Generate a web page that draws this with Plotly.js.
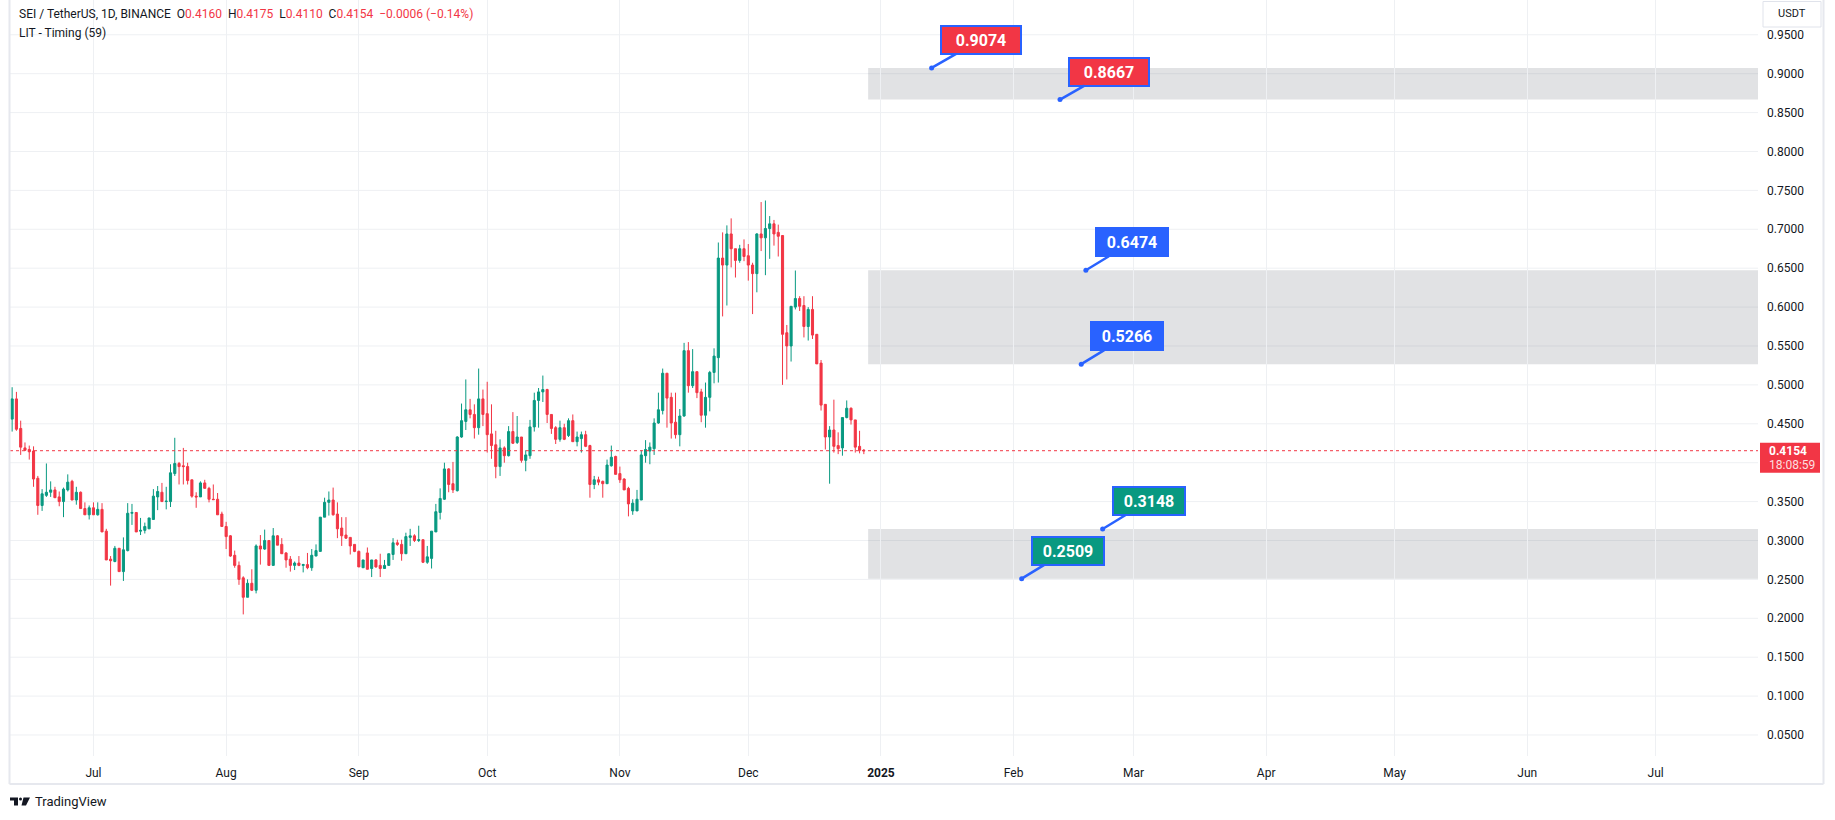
<!DOCTYPE html>
<html>
<head>
<meta charset="utf-8">
<script src="https://cdn.plot.ly/plotly-3.0.1.min.js"></script>
<style>
html,body{margin:0;padding:0;background:#fff;}
#chart{width:1835px;height:820px;}
</style>
</head>
<body>
<div id="chart"></div>
<script>
// ---- Data (SEI / TetherUS, 1D, BINANCE) ----
const firstDay = [2024, 5, 12]; // 2024-06-12, one candle per day
const openP = [
0.456,0.482,0.444,0.419,0.417,0.415,0.380,0.345,0.358,0.362,
0.365,0.356,0.350,0.365,0.376,0.352,0.362,0.341,0.333,0.342,
0.333,0.340,0.312,0.276,0.273,0.290,0.260,0.287,0.335,0.336,
0.312,0.313,0.315,0.327,0.356,0.362,0.350,0.350,0.386,0.399,
0.396,0.395,0.378,0.357,0.356,0.374,0.367,0.353,0.353,0.334,
0.318,0.306,0.281,0.268,0.252,0.227,0.245,0.236,0.293,0.289,
0.300,0.268,0.306,0.295,0.284,0.276,0.268,0.271,0.268,0.269,
0.265,0.280,0.286,0.330,0.349,0.352,0.334,0.316,0.307,0.304,
0.295,0.286,0.265,0.284,0.264,0.275,0.268,0.264,0.268,0.282,
0.297,0.295,0.283,0.304,0.306,0.300,0.301,0.272,0.277,0.311,
0.336,0.353,0.392,0.373,0.364,0.433,0.453,0.468,0.462,0.445,
0.482,0.463,0.437,0.423,0.395,0.419,0.409,0.440,0.426,0.433,
0.403,0.409,0.446,0.480,0.491,0.494,0.462,0.445,0.430,0.445,
0.435,0.454,0.427,0.431,0.436,0.422,0.372,0.378,0.376,0.373,
0.396,0.408,0.386,0.379,0.367,0.338,0.338,0.352,0.409,0.415,
0.418,0.451,0.467,0.515,0.484,0.452,0.436,0.460,0.544,0.499,
0.517,0.491,0.461,0.484,0.516,0.535,0.663,0.654,0.694,0.675,
0.660,0.675,0.666,0.654,0.643,0.694,0.689,0.701,0.707,0.696,
0.692,0.567,0.550,0.600,0.611,0.602,0.575,0.597,0.565,0.528,
0.475,0.433,0.442,0.422,0.419,0.458,0.470,0.455,0.421,0.4160];
const highP = [
0.497,0.491,0.454,0.426,0.422,0.421,0.383,0.366,0.399,0.376,
0.369,0.363,0.368,0.385,0.378,0.369,0.363,0.349,0.345,0.349,
0.349,0.348,0.315,0.280,0.293,0.290,0.304,0.348,0.347,0.336,
0.329,0.323,0.329,0.366,0.370,0.374,0.369,0.398,0.432,0.401,
0.419,0.400,0.378,0.362,0.376,0.378,0.369,0.372,0.361,0.337,
0.324,0.307,0.287,0.273,0.254,0.250,0.263,0.295,0.307,0.314,
0.300,0.316,0.307,0.303,0.285,0.280,0.273,0.280,0.270,0.284,
0.289,0.295,0.330,0.355,0.363,0.368,0.349,0.330,0.330,0.304,
0.295,0.287,0.275,0.291,0.275,0.276,0.283,0.275,0.283,0.303,
0.301,0.301,0.310,0.315,0.308,0.319,0.301,0.293,0.312,0.347,
0.367,0.400,0.393,0.401,0.434,0.476,0.507,0.482,0.475,0.521,
0.494,0.504,0.475,0.441,0.430,0.421,0.447,0.465,0.460,0.433,
0.416,0.455,0.490,0.496,0.512,0.495,0.462,0.447,0.454,0.450,
0.457,0.462,0.440,0.440,0.441,0.423,0.383,0.382,0.377,0.404,
0.422,0.409,0.395,0.380,0.369,0.353,0.365,0.416,0.429,0.426,
0.457,0.490,0.521,0.515,0.490,0.490,0.469,0.554,0.555,0.546,
0.517,0.495,0.503,0.518,0.547,0.683,0.696,0.705,0.714,0.675,
0.680,0.687,0.681,0.657,0.695,0.735,0.737,0.717,0.712,0.706,
0.692,0.577,0.601,0.647,0.614,0.614,0.600,0.614,0.565,0.532,
0.475,0.447,0.481,0.439,0.458,0.480,0.471,0.455,0.441,0.4175];
const lowP = [
0.440,0.441,0.410,0.415,0.404,0.369,0.333,0.338,0.356,0.356,
0.355,0.344,0.330,0.363,0.352,0.346,0.341,0.333,0.327,0.333,
0.332,0.311,0.275,0.242,0.272,0.260,0.248,0.286,0.320,0.311,
0.307,0.309,0.315,0.327,0.339,0.350,0.340,0.343,0.383,0.372,
0.372,0.372,0.355,0.342,0.356,0.367,0.349,0.352,0.333,0.318,
0.289,0.279,0.265,0.243,0.205,0.227,0.235,0.232,0.269,0.288,
0.268,0.268,0.294,0.283,0.265,0.260,0.262,0.267,0.259,0.263,
0.261,0.280,0.286,0.330,0.332,0.332,0.303,0.293,0.302,0.282,
0.285,0.266,0.265,0.263,0.253,0.265,0.253,0.264,0.268,0.275,
0.293,0.274,0.283,0.293,0.298,0.298,0.271,0.270,0.264,0.311,
0.327,0.352,0.362,0.361,0.363,0.432,0.442,0.457,0.431,0.436,
0.447,0.413,0.405,0.380,0.383,0.400,0.408,0.424,0.424,0.400,
0.389,0.405,0.440,0.445,0.478,0.451,0.437,0.424,0.427,0.429,
0.433,0.427,0.421,0.413,0.420,0.355,0.366,0.371,0.355,0.373,
0.395,0.385,0.374,0.365,0.331,0.333,0.338,0.352,0.400,0.398,
0.410,0.450,0.462,0.445,0.431,0.431,0.421,0.459,0.490,0.496,
0.483,0.452,0.445,0.466,0.502,0.503,0.588,0.602,0.651,0.638,
0.657,0.659,0.634,0.591,0.619,0.672,0.641,0.662,0.679,0.665,
0.500,0.507,0.530,0.597,0.595,0.561,0.557,0.559,0.527,0.467,
0.417,0.373,0.413,0.411,0.409,0.457,0.449,0.413,0.412,0.4110];
const closeP = [
0.482,0.443,0.420,0.416,0.414,0.379,0.345,0.360,0.362,0.365,
0.355,0.350,0.366,0.375,0.352,0.362,0.341,0.333,0.342,0.333,
0.340,0.311,0.275,0.274,0.290,0.260,0.288,0.335,0.336,0.311,
0.313,0.318,0.329,0.357,0.363,0.350,0.3505,0.387,0.399,0.395,
0.395,0.377,0.357,0.356,0.374,0.367,0.353,0.3525,0.333,0.318,
0.305,0.280,0.268,0.250,0.227,0.245,0.236,0.293,0.289,0.300,
0.268,0.306,0.294,0.283,0.275,0.268,0.271,0.268,0.269,0.265,
0.281,0.287,0.330,0.349,0.352,0.333,0.315,0.306,0.303,0.293,
0.286,0.266,0.275,0.263,0.275,0.266,0.264,0.268,0.283,0.297,
0.295,0.283,0.305,0.306,0.300,0.301,0.272,0.279,0.312,0.337,
0.354,0.392,0.372,0.365,0.433,0.454,0.468,0.462,0.445,0.482,
0.462,0.436,0.422,0.395,0.419,0.409,0.440,0.425,0.433,0.403,
0.410,0.446,0.480,0.491,0.494,0.462,0.444,0.430,0.445,0.430,
0.454,0.427,0.433,0.436,0.421,0.372,0.378,0.375,0.373,0.397,
0.407,0.385,0.378,0.365,0.347,0.348,0.353,0.410,0.417,0.420,
0.451,0.468,0.515,0.483,0.451,0.436,0.460,0.544,0.499,0.517,
0.490,0.461,0.484,0.516,0.537,0.663,0.654,0.694,0.675,0.660,
0.675,0.665,0.654,0.643,0.694,0.689,0.701,0.707,0.694,0.691,
0.565,0.550,0.601,0.611,0.601,0.575,0.597,0.564,0.527,0.474,
0.433,0.442,0.421,0.418,0.458,0.470,0.455,0.420,0.416,0.4154];

// Price-label levels (LIT - Timing) and zones
const levelPrices = [0.9074, 0.8667, 0.6474, 0.5266, 0.3148, 0.2509];
const levelDates  = ['2025-01-12 20:00','2025-02-11 20:00','2025-02-17 21:00','2025-02-16 19:00','2025-02-21 19:00','2025-02-02 21:00'];
const levelColors = ['#f23645','#f23645','#2962ff','#2962ff','#089981','#089981'];
const zoneStart = '2024-12-29';
const zoneTops    = [0.9074, 0.6474, 0.3148];
const zoneBottoms = [0.8667, 0.5266, 0.2509];

// Price-axis tick labels (0.4000 is hidden behind the last-price tag)
const yTickVals = [0.05,0.10,0.15,0.20,0.25,0.30,0.35,0.45,0.50,0.55,0.60,0.65,0.70,0.75,0.80,0.85,0.90,0.95];
const yGridVals = [0.05,0.10,0.15,0.20,0.25,0.30,0.35,0.40,0.45,0.50,0.55,0.60,0.65,0.70,0.75,0.80,0.85,0.90,0.95];

const monthTicks = ['2024-07-01','2024-08-01','2024-09-01','2024-10-01','2024-11-01','2024-12-01','2025-01-01','2025-02-01','2025-03-01','2025-04-01','2025-05-01','2025-06-01','2025-07-01'];
const monthLabels = ['Jul','Aug','Sep','Oct','Nov','Dec','<b>2025</b>','Feb','Mar','Apr','May','Jun','Jul'];

const headerSymbol = 'SEI / TetherUS, 1D, BINANCE';
const headerOHLC = ['0.4160','0.4175','0.4110','0.4154'];
const headerChange = '\u22120.0006 (\u22120.14%)';
const indicatorName = 'LIT - Timing (59)';
const countdown = '18:08:59';

// ---- Layout geometry ----
const W = 1835, H = 820;
const PL = 10, PR = 1758, PT = 0, PB = 756;
const xRange = ['2024-06-11 12:00', '2025-07-24 22:00'];
const yRange = [0.0230, 0.9947];
const px = x => (x - PL) / (PR - PL);
const py = y => (PB - y) / (PB - PT);
const priceToPix = p => PB - (p - yRange[0]) / (yRange[1] - yRange[0]) * (PB - PT);

const dates = [];
for (let i = 0; i < openP.length; i++) {
  const d = new Date(Date.UTC(firstDay[0], firstDay[1], firstDay[2] + i));
  dates.push(d.toISOString().slice(0, 10));
}

const UP = '#089981', DOWN = '#f23645', TXT = '#131722', GRID = '#eef0f3', FONT = 'Roboto, "Noto Sans", sans-serif';

const traces = [
  {
    type: 'candlestick', x: dates, open: openP, high: highP, low: lowP, close: closeP,
    increasing: {line: {color: UP, width: 1}, fillcolor: UP},
    decreasing: {line: {color: DOWN, width: 1}, fillcolor: DOWN},
    whiskerwidth: 0, hoverinfo: 'skip', showlegend: false
  },
  {
    type: 'scatter', mode: 'markers', x: levelDates, y: levelPrices,
    marker: {color: '#2962ff', size: 5}, hoverinfo: 'skip', showlegend: false, cliponaxis: false
  }
];

const shapes = [];
// horizontal grid lines
for (let i = 0; i < yGridVals.length; i++) {
  shapes.push({type: 'line', xref: 'paper', yref: 'y', x0: 0, x1: 1, y0: yGridVals[i], y1: yGridVals[i],
    line: {color: GRID, width: 1}, layer: 'below'});
}
// zones
for (let i = 0; i < zoneTops.length; i++) {
  shapes.push({type: 'rect', xref: 'x', yref: 'y', x0: zoneStart, x1: xRange[1],
    y0: zoneBottoms[i], y1: zoneTops[i], fillcolor: 'rgba(120,123,134,0.22)', line: {width: 0}, layer: 'below'});
}
const lastClose = closeP[closeP.length - 1];
// last price dotted line
shapes.push({type: 'line', xref: 'paper', yref: 'y', x0: 0, x1: 1, y0: lastClose, y1: lastClose,
  line: {color: DOWN, width: 1, dash: 'dot'}});
// last price axis label box
const lp = priceToPix(lastClose);
shapes.push({type: 'rect', xref: 'paper', yref: 'paper', x0: px(1760), x1: px(1820), y0: py(lp + 22), y1: py(lp - 8),
  fillcolor: DOWN, line: {width: 0}});
// frame
shapes.push({type: 'line', xref: 'paper', yref: 'paper', x0: px(9.5), x1: px(9.5), y0: py(0), y1: py(784), line: {color: '#e6e8ee', width: 2}});
shapes.push({type: 'line', xref: 'paper', yref: 'paper', x0: px(1823.5), x1: px(1823.5), y0: py(0), y1: py(784), line: {color: '#e6e8ee', width: 2}});
shapes.push({type: 'line', xref: 'paper', yref: 'paper', x0: px(9.5), x1: px(1823.5), y0: py(784), y1: py(784), line: {color: '#e6e8ee', width: 2}});
// USDT button
shapes.push({type: 'rect', xref: 'paper', yref: 'paper', x0: px(1763), x1: px(1821), y0: py(1.5), y1: py(27),
  fillcolor: '#ffffff', line: {color: '#e0e3eb', width: 1}});
// TradingView logo glyph
const P = (x, y) => px(x).toFixed(5) + ',' + py(y).toFixed(5);
shapes.push({type: 'path', xref: 'paper', yref: 'paper', fillcolor: TXT, line: {width: 0},
  path: 'M' + P(10, 797.5) + ' L' + P(18, 797.5) + ' L' + P(18, 805.5) + ' L' + P(14, 805.5) + ' L' + P(14, 800.5) + ' L' + P(10, 800.5) + ' Z'});
shapes.push({type: 'circle', xref: 'paper', yref: 'paper', fillcolor: TXT, line: {width: 0},
  x0: px(19), x1: px(22), y0: py(800.5), y1: py(797.5)});
shapes.push({type: 'path', xref: 'paper', yref: 'paper', fillcolor: TXT, line: {width: 0},
  path: 'M' + P(23.5, 797.5) + ' L' + P(30, 797.5) + ' L' + P(26, 805.5) + ' L' + P(21.5, 805.5) + ' Z'});

const annotations = [];
// header
const red = s => '<span style="color:' + DOWN + '">' + s + '</span>';
const sp = '\u00a0\u00a0';
annotations.push({xref: 'paper', yref: 'paper', x: px(17), y: py(14), xanchor: 'left', yanchor: 'middle', showarrow: false,
  text: headerSymbol + sp + 'O' + red(headerOHLC[0]) + sp + 'H' + red(headerOHLC[1]) + sp + 'L' + red(headerOHLC[2]) + sp + 'C' + red(headerOHLC[3]) + sp + red(headerChange),
  font: {family: FONT, size: 12, color: TXT}});
annotations.push({xref: 'paper', yref: 'paper', x: px(17), y: py(33), xanchor: 'left', yanchor: 'middle', showarrow: false,
  text: indicatorName, font: {family: FONT, size: 12, color: TXT}});
// USDT
annotations.push({xref: 'paper', yref: 'paper', x: px(1792), y: py(14), xanchor: 'center', yanchor: 'middle', showarrow: false,
  text: 'USDT', font: {family: FONT, size: 11, color: TXT}});
// last price label texts
annotations.push({xref: 'paper', yref: 'paper', x: px(1767), y: py(lp + 0.5), xanchor: 'left', yanchor: 'middle', showarrow: false,
  text: '<b>' + lastClose.toFixed(4) + '</b>', font: {family: FONT, size: 12, color: '#ffffff'}});
annotations.push({xref: 'paper', yref: 'paper', x: px(1767), y: py(lp + 14.5), xanchor: 'left', yanchor: 'middle', showarrow: false,
  text: countdown, font: {family: FONT, size: 12, color: 'rgba(255,255,255,0.85)'}});
// TradingView text
annotations.push({xref: 'paper', yref: 'paper', x: px(33), y: py(801.5), xanchor: 'left', yanchor: 'middle', showarrow: false,
  text: 'TradingView', font: {family: FONT, size: 13, color: TXT}});
// price labels
for (let i = 0; i < levelPrices.length; i++) {
  const isRed = levelColors[i] === DOWN;
  annotations.push({xref: 'x', yref: 'y', x: levelDates[i], y: levelPrices[i],
    text: '<b>' + levelPrices[i].toFixed(4) + '</b>', showarrow: true, arrowhead: 0, arrowwidth: 2.5, arrowcolor: '#2962ff',
    ax: isRed ? 49 : 46, ay: -28, axref: 'pixel', ayref: 'pixel', standoff: 0,
    bgcolor: levelColors[i], bordercolor: '#2962ff', borderwidth: 2, borderpad: 3,
    width: isRed ? 72 : 64, height: 20, font: {family: FONT, size: 16, color: '#ffffff'}});
}

const layout = {
  width: W, height: H,
  margin: {l: PL, r: W - PR, t: PT, b: H - PB, pad: 0},
  paper_bgcolor: '#ffffff', plot_bgcolor: '#ffffff',
  showlegend: false, dragmode: false,
  xaxis: {
    type: 'date', range: xRange, rangeslider: {visible: false},
    tickvals: monthTicks, ticktext: monthLabels, ticks: '', ticklabelstandoff: 8,
    showgrid: true, gridcolor: GRID, gridwidth: 1, zeroline: false, showline: false,
    tickfont: {family: FONT, size: 12, color: TXT}, fixedrange: true
  },
  yaxis: {
    side: 'right', range: yRange, tickmode: 'array', tickvals: yTickVals, tickformat: '.4f', ticks: '', ticklabelstandoff: 8,
    showgrid: false, zeroline: false, showline: false,
    tickfont: {family: FONT, size: 12, color: TXT}, fixedrange: true
  },
  shapes: shapes,
  annotations: annotations
};

Plotly.newPlot('chart', traces, layout, {displayModeBar: false, staticPlot: true});
</script>
</body>
</html>
